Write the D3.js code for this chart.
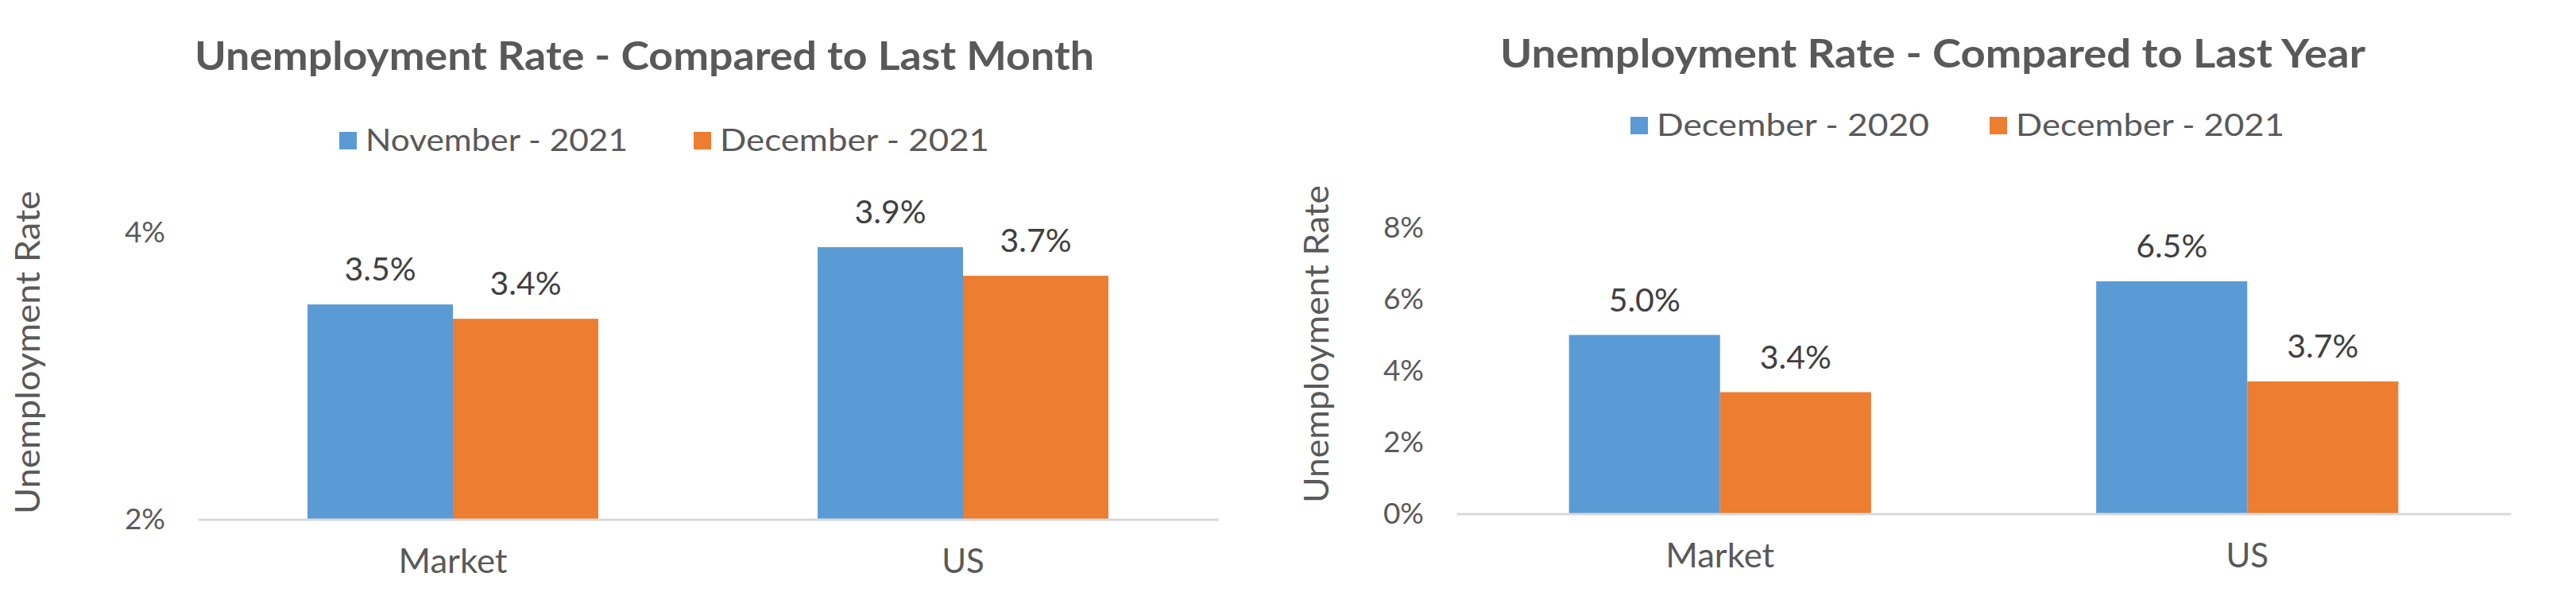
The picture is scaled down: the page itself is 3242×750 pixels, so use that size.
<!DOCTYPE html>
<html>
<head>
<meta charset="utf-8">
<script src="https://cdn.jsdelivr.net/npm/d3@7"></script>
<style>
  html, body { margin: 0; padding: 0; background: #ffffff; }
  svg { display: block; }
  text { font-family: "Lato", "Noto Sans", sans-serif; }
</style>
</head>
<body>
<svg id="chart" width="3242" height="750"></svg>
<script>
// ---------- data ----------
const categories = ["Market", "US"];

const monthTitle = "Unemployment Rate - Compared to Last Month";
const monthSeries = ["November - 2021", "December - 2021"];
const monthNov2021 = [3.5, 3.9];
const monthDec2021 = [3.4, 3.7];
const monthTicks = [2, 4];

const yearTitle = "Unemployment Rate - Compared to Last Year";
const yearSeries = ["December - 2020", "December - 2021"];
const yearDec2020 = [5.0, 6.5];
const yearDec2021 = [3.4, 3.7];
const yearTicks = [0, 2, 4, 6, 8];

const yAxisTitle = "Unemployment Rate";

// ---------- style ----------
const seriesColors = ["#5B9BD5", "#ED7D31"];
const textGray = "#595959";
const labelGray = "#404040";
const axisGray = "#D9D9D9";

const svg = d3.select("#chart");
const fmtVal = d => d3.format(".1f")(d) + "%";
const fmtTick = d => d + "%";

function drawChart(cfg) {
  const g = svg.append("g");

  // title
  g.append("text")
    .attr("x", cfg.titleX).attr("y", cfg.titleY)
    .attr("text-anchor", "middle")
    .attr("font-size", 50).attr("font-weight", "bold")
    .attr("fill", textGray)
    .attr("textLength", cfg.titleLen).attr("lengthAdjust", "spacingAndGlyphs")
    .text(cfg.title);

  // legend
  cfg.series.forEach((s, i) => {
    const lx = cfg.legendX[i];
    g.append("rect")
      .attr("x", lx).attr("y", cfg.legendY - 24)
      .attr("width", 22).attr("height", 22)
      .attr("fill", seriesColors[i]);
    g.append("text")
      .attr("x", lx + 33).attr("y", cfg.legendY)
      .attr("font-size", 39).attr("fill", textGray)
      .attr("textLength", cfg.legendLen[i]).attr("lengthAdjust", "spacingAndGlyphs")
      .text(s);
  });

  // scales
  const x0 = d3.scaleBand().domain(categories).range([cfg.plotLeft, cfg.plotRight]).padding(0);
  const groupW = x0.bandwidth() * cfg.groupFrac;
  const x1 = d3.scaleBand().domain(cfg.series).range([0, groupW]).padding(0);
  const y = d3.scaleLinear().domain(cfg.yDomain).range([cfg.plotBottom, cfg.plotTop]);

  const rows = [];
  categories.forEach((c, ci) => {
    cfg.series.forEach((s, si) => {
      rows.push({ cat: c, ser: s, si: si, v: cfg.values[si][ci] });
    });
  });

  const gx = c => x0(c) + (x0.bandwidth() - groupW) / 2;

  // bars
  g.append("g").selectAll("rect").data(rows).join("rect")
    .attr("x", d => gx(d.cat) + x1(d.ser))
    .attr("width", x1.bandwidth())
    .attr("y", d => y(d.v))
    .attr("height", d => y(cfg.yDomain[0]) - y(d.v))
    .attr("fill", d => seriesColors[d.si]);

  // data labels
  g.append("g").selectAll("text").data(rows).join("text")
    .attr("x", d => gx(d.cat) + x1(d.ser) + x1.bandwidth() / 2)
    .attr("y", d => y(d.v) - 30)
    .attr("text-anchor", "middle")
    .attr("font-size", 41).attr("fill", labelGray)
    .text(d => fmtVal(d.v));

  // y axis (labels only)
  const yAxis = g.append("g")
    .attr("transform", `translate(${cfg.plotLeft},0)`)
    .call(d3.axisLeft(y).tickValues(cfg.ticks).tickSize(0).tickPadding(41).tickFormat(fmtTick));
  yAxis.select(".domain").remove();
  yAxis.selectAll("text")
    .attr("font-size", 37).attr("fill", textGray)
    .attr("font-family", "Lato, 'Noto Sans', sans-serif");

  // x axis
  const xAxis = g.append("g")
    .attr("transform", `translate(0,${cfg.plotBottom})`)
    .call(d3.axisBottom(x0).tickSize(0).tickSizeOuter(0).tickPadding(38));
  xAxis.select(".domain").attr("stroke", axisGray).attr("stroke-width", 3);
  xAxis.selectAll("text")
    .attr("font-size", 42).attr("fill", textGray)
    .attr("font-family", "Lato, 'Noto Sans', sans-serif")
    .attr("textLength", d => d === "Market" ? 137 : null)
    .attr("lengthAdjust", "spacingAndGlyphs");

  // y axis title
  g.append("text")
    .attr("transform", `translate(${cfg.yTitleX},${cfg.yTitleY}) rotate(-90)`)
    .attr("text-anchor", "middle")
    .attr("font-size", 43).attr("fill", textGray)
    .attr("textLength", cfg.yTitleLen).attr("lengthAdjust", "spacingAndGlyphs")
    .text(yAxisTitle);
}

drawChart({
  title: monthTitle, titleX: 811, titleY: 88, titleLen: 1132,
  series: monthSeries, values: [monthNov2021, monthDec2021],
  legendX: [427, 873], legendY: 190, legendLen: [330, 339],
  plotLeft: 249, plotRight: 1533, plotTop: 293, plotBottom: 653.5,
  groupFrac: 0.57, yDomain: [2, 4], ticks: monthTicks,
  yTitleX: 50, yTitleY: 443.5, yTitleLen: 407
});

drawChart({
  title: yearTitle, titleX: 2432.5, titleY: 85, titleLen: 1089,
  series: yearSeries, values: [yearDec2020, yearDec2021],
  legendX: [2052, 2504], legendY: 171, legendLen: [343, 338],
  plotLeft: 1833, plotRight: 3160, plotTop: 286.5, plotBottom: 646.5,
  groupFrac: 0.573, yDomain: [0, 8], ticks: yearTicks,
  yTitleX: 1672, yTitleY: 433, yTitleLen: 400
});
</script>
</body>
</html>
